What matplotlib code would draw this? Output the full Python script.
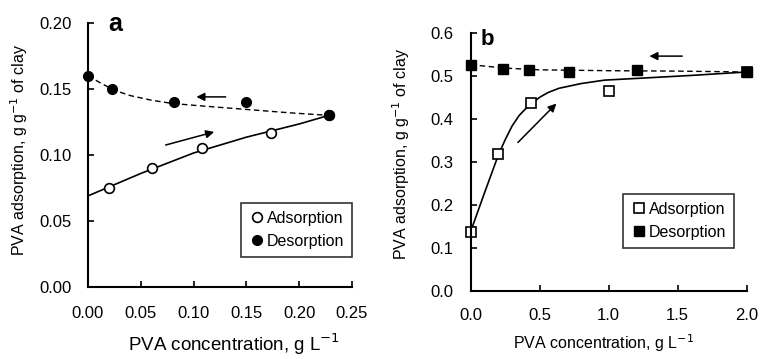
import matplotlib
matplotlib.use("Agg")
import matplotlib.pyplot as plt

plt.rcParams['font.family'] = ['Liberation Sans', 'DejaVu Sans']

# panel a data
a_ads_x = [0.020, 0.061, 0.108, 0.173, 0.228]
a_ads_y = [0.075, 0.090, 0.105, 0.117, 0.130]
a_des_x = [0.000, 0.023, 0.081, 0.150, 0.228]
a_des_y = [0.160, 0.150, 0.140, 0.140, 0.130]
# fitted curves
a_fit_x = [0.0, 0.05, 0.10, 0.15, 0.20, 0.228]
a_fit_y = [0.069, 0.086, 0.1015, 0.1135, 0.1235, 0.130]
a_dfit_x = [0.0, 0.012, 0.025, 0.04, 0.06, 0.08, 0.11, 0.15, 0.19, 0.228]
a_dfit_y = [0.160, 0.1545, 0.149, 0.145, 0.1415, 0.139, 0.137, 0.1345, 0.132, 0.130]

# panel b data
b_ads_x = [0.0, 0.20, 0.44, 1.0, 2.0]
b_ads_y = [0.138, 0.318, 0.438, 0.465, 0.51]
b_des_x = [0.0, 0.236, 0.425, 0.712, 1.207, 2.0]
b_des_y = [0.527, 0.518, 0.514, 0.510, 0.514, 0.51]
b_fit_x = [0.0, 0.10, 0.20, 0.25, 0.30, 0.35, 0.40, 0.44, 0.50, 0.56, 0.64, 0.80, 0.97, 1.26, 1.6, 2.0]
b_fit_y = [0.138, 0.228, 0.316, 0.352, 0.384, 0.408, 0.425, 0.436, 0.451, 0.462, 0.472, 0.483, 0.491, 0.496, 0.502, 0.51]
b_dfit_x = [0.0, 0.25, 0.5, 1.0, 1.5, 2.0]
b_dfit_y = [0.527, 0.519, 0.515, 0.513, 0.512, 0.51]

fig = plt.figure(figsize=(7.61, 3.59), dpi=100)
ax1 = fig.add_axes([0.1156, 0.2006, 0.347, 0.7354])
ax2 = fig.add_axes([0.6185, 0.1903, 0.3627, 0.7167])

arr = dict(arrowstyle='-|>', color='black', lw=1.1, mutation_scale=12)

# a
ax1.plot(a_fit_x, a_fit_y, '-', color='black', lw=1.2)
ax1.plot(a_dfit_x, a_dfit_y, '--', color='black', lw=1.0, dashes=(4, 2.5))
ax1.plot(a_ads_x, a_ads_y, 'o', mfc='white', mec='black', ms=7, mew=1.2, ls='none', label='Adsorption')
ax1.plot(a_des_x, a_des_y, 'o', mfc='black', mec='black', ms=7, ls='none', label='Desorption')
ax1.annotate('', xy=(0.122, 0.118), xytext=(0.071, 0.107), arrowprops=arr)
ax1.annotate('', xy=(0.100, 0.144), xytext=(0.133, 0.144), arrowprops=arr)
ax1.set_xlim(0, 0.25)
ax1.set_ylim(0, 0.20)
ax1.set_xticks([0, 0.05, 0.10, 0.15, 0.20, 0.25])
ax1.set_yticks([0, 0.05, 0.10, 0.15, 0.20])
ax1.set_xticklabels(['0.00', '0.05', '0.10', '0.15', '0.20', '0.25'])
ax1.set_yticklabels(['0.00', '0.05', '0.10', '0.15', '0.20'])
ax1.tick_params(direction='in', length=4, width=1.2, labelsize=12)
ax1.tick_params(axis='x', pad=14)
ax1.tick_params(axis='y', pad=11.5)
ax1.set_xlabel('PVA concentration, g L$^{-1}$', fontsize=13.5)
ax1.set_ylabel('PVA adsorption, g g$^{-1}$ of clay', fontsize=11.5)
ax1.xaxis.set_label_coords(0.553, -0.17)
ax1.yaxis.set_label_coords(-0.22, 0.52)
ax1.text(0.102, 0.998, 'a', transform=ax1.transAxes, fontsize=18, fontweight='bold', ha='center', va='center')
leg1 = ax1.legend(loc='lower right', bbox_to_anchor=(1.0, 0.114), fontsize=11.5, frameon=True, fancybox=False,
                  handletextpad=0.1, borderpad=0.5, labelspacing=0.5, handlelength=1.0, borderaxespad=0)
leg1.get_frame().set_edgecolor('black')
leg1.get_frame().set_linewidth(1.2)

# b
ax2.plot(b_fit_x, b_fit_y, '-', color='black', lw=1.2)
ax2.plot(b_dfit_x, b_dfit_y, '--', color='black', lw=1.0, dashes=(4, 2.5))
ax2.plot(b_ads_x, b_ads_y, 's', mfc='white', mec='black', ms=7, mew=1.2, ls='none', label='Adsorption')
ax2.plot(b_des_x, b_des_y, 's', mfc='black', mec='black', ms=7, ls='none', label='Desorption')
ax2.annotate('', xy=(0.635, 0.441), xytext=(0.328, 0.341), arrowprops=arr)
ax2.annotate('', xy=(1.275, 0.547), xytext=(1.553, 0.547), arrowprops=arr)
ax2.set_xlim(0, 2.0)
ax2.set_ylim(0, 0.6)
ax2.set_xticks([0, 0.5, 1.0, 1.5, 2.0])
ax2.set_yticks([0, 0.1, 0.2, 0.3, 0.4, 0.5, 0.6])
ax2.set_xticklabels(['0.0', '0.5', '1.0', '1.5', '2.0'])
ax2.set_yticklabels(['0.0', '0.1', '0.2', '0.3', '0.4', '0.5', '0.6'])
ax2.tick_params(direction='in', length=4, width=1.2, labelsize=12)
ax2.tick_params(axis='x', pad=12.5)
ax2.tick_params(axis='y', pad=12.5)
ax2.set_xlabel('PVA concentration, g L$^{-1}$', fontsize=11.5)
ax2.set_ylabel('PVA adsorption, g g$^{-1}$ of clay', fontsize=11.5)
ax2.xaxis.set_label_coords(0.481, -0.163)
ax2.yaxis.set_label_coords(-0.213, 0.533)
ax2.text(0.061, 0.978, 'b', transform=ax2.transAxes, fontsize=16, fontweight='bold', ha='center', va='center')
leg2 = ax2.legend(loc='lower right', bbox_to_anchor=(0.955, 0.167), fontsize=11.5, frameon=True, fancybox=False,
                  handletextpad=0.1, borderpad=0.5, labelspacing=0.5, handlelength=1.0, borderaxespad=0)
leg2.get_frame().set_edgecolor('black')
leg2.get_frame().set_linewidth(1.2)

for ax in (ax1, ax2):
    ax.spines['top'].set_visible(False)
    ax.spines['right'].set_visible(False)
    ax.spines['left'].set_linewidth(1.5)
    ax.spines['bottom'].set_linewidth(1.5)
    for ln in ax.lines:
        ln.set_clip_on(False)

fig.savefig('out.png', dpi=100)
